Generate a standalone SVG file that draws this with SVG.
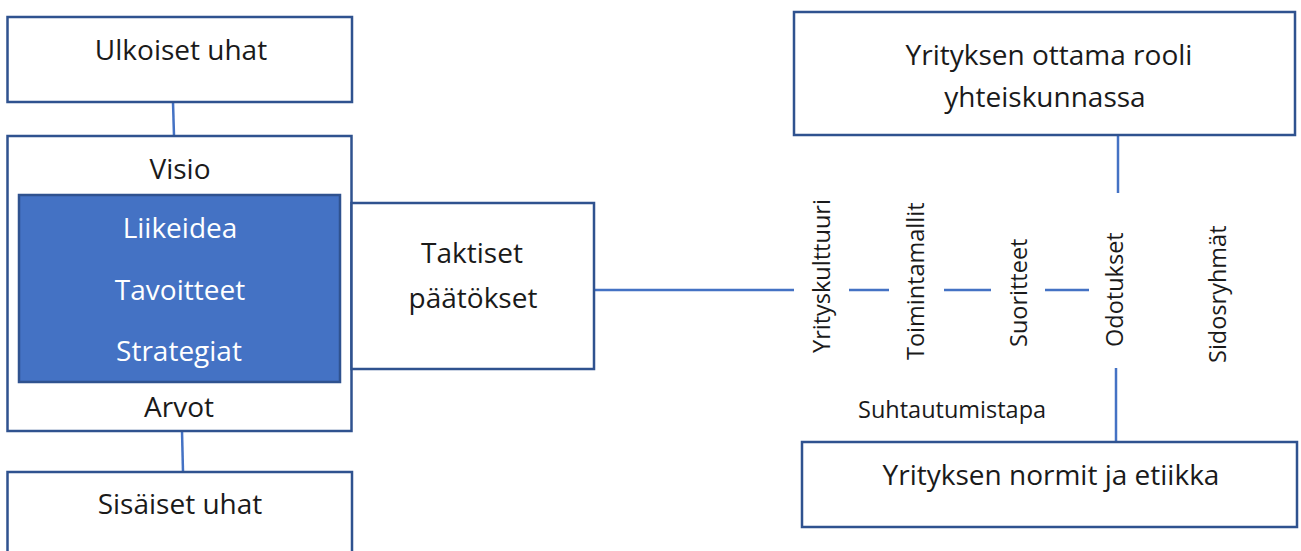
<svg xmlns="http://www.w3.org/2000/svg" width="1301" height="551" viewBox="0 0 1301 551">
<style>
.box{fill:#ffffff;stroke:#2F528F;stroke-width:2.5}
.blue{fill:#4472C4;stroke:#2F528F;stroke-width:2.5}
.t{font-family:"Open Sans","Noto Sans",sans-serif;font-size:28px;fill:#1a1a1a;text-anchor:middle}
.w{fill:#ffffff}
.s{font-family:"Open Sans","Noto Sans",sans-serif;font-size:23.5px;fill:#1a1a1a}
.c{stroke:#4472C4;stroke-width:2.5;fill:none}
</style>
<rect width="1301" height="551" fill="#ffffff"/>
<g id="connectors">
<line class="c" x1="173" y1="102" x2="174" y2="136"/>
<line class="c" x1="182" y1="431" x2="183" y2="472"/>
<line class="c" x1="594" y1="290" x2="794" y2="290"/>
<line class="c" x1="849" y1="290" x2="889" y2="290"/>
<line class="c" x1="944" y1="290" x2="991" y2="290"/>
<line class="c" x1="1045" y1="290" x2="1089" y2="290"/>
<line class="c" x1="1118" y1="135" x2="1118" y2="193"/>
<line class="c" x1="1116" y1="368" x2="1116" y2="442"/>
</g>
<g id="ulkoiset">
<rect class="box" x="7.5" y="17" width="344.5" height="85"/>
<text class="t" x="181" y="60">Ulkoiset uhat</text>
</g>
<g id="main">
<rect class="box" x="7.5" y="136" width="344" height="295"/>
<text class="t" x="180" y="179">Visio</text>
<text class="t" x="179" y="417">Arvot</text>
</g>
<g id="inner">
<rect class="blue" x="19" y="195" width="321" height="187"/>
<text class="t w" x="180" y="238">Liikeidea</text>
<text class="t w" x="180" y="300">Tavoitteet</text>
<text class="t w" x="179" y="361">Strategiat</text>
</g>
<g id="taktiset">
<rect class="box" x="351.5" y="203" width="242.5" height="166"/>
<text class="t" x="472" y="263">Taktiset</text>
<text class="t" x="473" y="308">päätökset</text>
</g>
<g id="sisaiset">
<rect class="box" x="7.5" y="472" width="344.5" height="100"/>
<text class="t" x="180" y="514">Sisäiset uhat</text>
</g>
<g id="rooli">
<rect class="box" x="794" y="12" width="501" height="123"/>
<text class="t" x="1049" y="65">Yrityksen ottama rooli</text>
<text class="t" x="1045" y="107">yhteiskunnassa</text>
</g>
<g id="normit">
<rect class="box" x="802" y="442" width="495" height="85"/>
<text class="t" x="1051" y="485">Yrityksen normit ja etiikka</text>
</g>
<g id="labels">
<text class="s" transform="translate(830,353) rotate(-90)">Yrityskulttuuri</text>
<text class="s" transform="translate(924,360) rotate(-90)">Toimintamallit</text>
<text class="s" transform="translate(1027,347) rotate(-90)">Suoritteet</text>
<text class="s" transform="translate(1123,347) rotate(-90)">Odotukset</text>
<text class="s" transform="translate(1226,363) rotate(-90)">Sidosryhmät</text>
<text class="s" x="858" y="418">Suhtautumistapa</text>
</g>
</svg>
